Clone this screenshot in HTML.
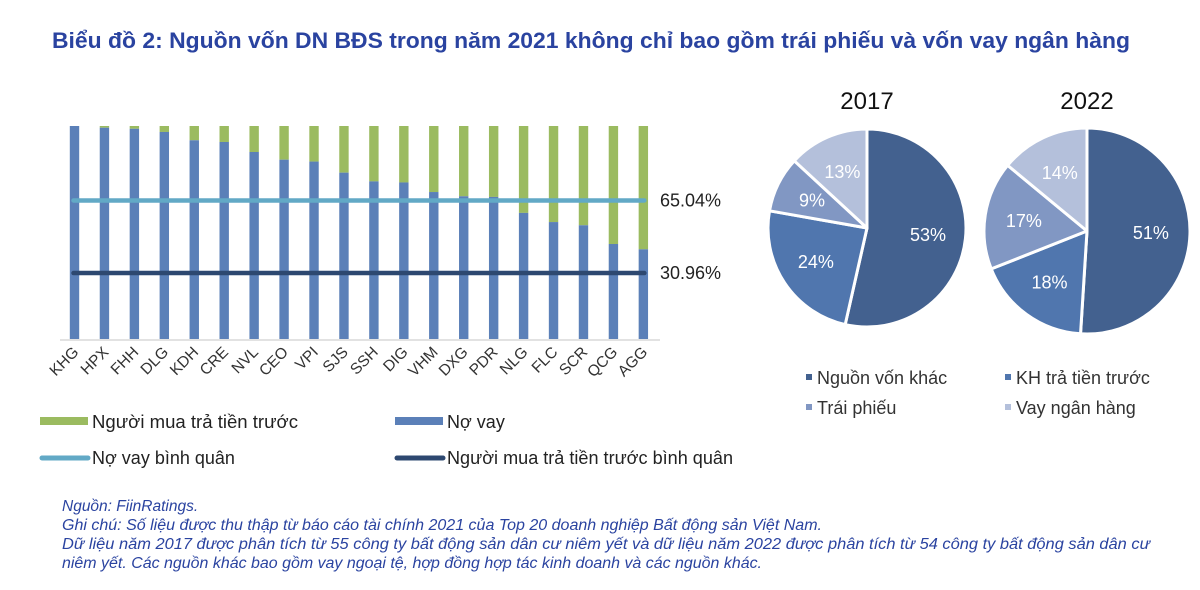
<!DOCTYPE html>
<html><head><meta charset="utf-8"><style>
body{margin:0;background:#fff;}
svg{display:block;font-family:"Liberation Sans",Arial,sans-serif;}
</style></head><body>
<svg id="c" width="1200" height="590" viewBox="0 0 1200 590" xmlns="http://www.w3.org/2000/svg">
<text x="52" y="48" font-size="22" font-weight="bold" fill="#2a43a0" textLength="1078" lengthAdjust="spacingAndGlyphs">Biểu đồ 2: Nguồn vốn DN BĐS trong năm 2021 không chỉ bao gồm trái phiếu và vốn vay ngân hàng</text>
<g id="bars"></g>
<g id="pies"></g>
<g font-size="18" fill="#222">
<rect x="40" y="417" width="48" height="8" fill="#9bbb60"/>
<text x="92" y="428" textLength="206" lengthAdjust="spacingAndGlyphs">Người mua trả tiền trước</text>
<rect x="395" y="417" width="48" height="8" fill="#5b80b8"/>
<text x="447" y="428">Nợ vay</text>
<line x1="42" y1="458" x2="88" y2="458" stroke="#62a9c6" stroke-width="5" stroke-linecap="round"/>
<text x="92" y="464">Nợ vay bình quân</text>
<line x1="397" y1="458" x2="443" y2="458" stroke="#2d4870" stroke-width="5" stroke-linecap="round"/>
<text x="447" y="464" textLength="286" lengthAdjust="spacingAndGlyphs">Người mua trả tiền trước bình quân</text>
</g>
<g font-size="18" fill="#333">
<rect x="806" y="374" width="6" height="6" fill="#43618f"/>
<text x="817" y="384">Nguồn vốn khác</text>
<rect x="1005" y="374" width="6" height="6" fill="#5076ae"/>
<text x="1016" y="384">KH trả tiền trước</text>
<rect x="806" y="404" width="6" height="6" fill="#8197c3"/>
<text x="817" y="414">Trái phiếu</text>
<rect x="1005" y="404" width="6" height="6" fill="#b4c0db"/>
<text x="1016" y="414">Vay ngân hàng</text>
</g>
<g font-size="15.5" font-style="italic" fill="#2a43a0">
<text x="62" y="511">Nguồn: FiinRatings.</text>
<text x="62" y="530" textLength="760" lengthAdjust="spacingAndGlyphs">Ghi chú: Số liệu được thu thập từ báo cáo tài chính 2021 của Top 20 doanh nghiệp Bất động sản Việt Nam.</text>
<text x="62" y="549" textLength="1088" lengthAdjust="spacingAndGlyphs">Dữ liệu năm 2017 được phân tích từ 55 công ty bất động sản dân cư niêm yết và dữ liệu năm 2022 được phân tích từ 54 công ty bất động sản dân cư</text>
<text x="62" y="568" textLength="700" lengthAdjust="spacingAndGlyphs">niêm yết. Các nguồn khác bao gồm vay ngoại tệ, hợp đồng hợp tác kinh doanh và các nguồn khác.</text>
</g>
</svg>
<script>
const companies=["KHG","HPX","FHH","DLG","KDH","CRE","NVL","CEO","VPI","SJS","SSH","DIG","VHM","DXG","PDR","NLG","FLC","SCR","QCG","AGG"];
const debtShare=[100,99.2,98.7,97.2,93.3,92.5,87.8,84.2,83.3,78.1,74.0,73.5,69.0,67.0,66.7,59.2,54.9,53.4,44.6,42.1];
const avgDebt=65.04;
const avgPrepaid=30.96;
const pieYears=["2017","2022"];
const pieLabels=["Nguồn vốn khác","KH trả tiền trước","Trái phiếu","Vay ngân hàng"];
const pie2017=[53,24,9,13];
const pie2022=[51,18,17,14];

const NS="http://www.w3.org/2000/svg";
function mk(t,a,p){const e=document.createElementNS(NS,t);for(const k in a)e.setAttribute(k,a[k]);p.appendChild(e);return e;}
const g=document.getElementById('bars');
const y0=339,y1=126;
const yS=v=>y0-(v/100)*(y0-y1);
const xS=i=>74.5+i*29.94;
const bw=9.4;
let ax=mk('line',{x1:60,y1:y0+1,x2:660,y2:y0+1,stroke:'#d9d9d9','stroke-width':1.5},g);


companies.forEach((c,i)=>{
  const x=xS(i)-bw/2;
  const gr=mk('rect',{x:x,y:y1,width:bw,height:yS(debtShare[i])-y1,fill:'#9bbb60'},g);
  
  
  const b=mk('rect',{x:x,y:yS(debtShare[i]),width:bw,height:y0-yS(debtShare[i]),fill:'#5b80b8'},g);
  
  
  const t=mk('text',{x:xS(i)+5,y:353,'font-size':15.5,fill:'#333','text-anchor':'end',transform:`rotate(-45 ${xS(i)+5} 353)`},g);
  t.textContent=c;
  
  
});
[[avgDebt,'#62a9c6','avg-debt-line'],[avgPrepaid,'#2d4870','avg-prepaid-line']].forEach(([v,col,n])=>{
  const l=mk('line',{x1:xS(0)-1,y1:yS(v),x2:xS(companies.length-1)+1,y2:yS(v),stroke:col,'stroke-width':4.5,'stroke-linecap':'round'},g);
  
  
  const t=mk('text',{x:660,y:yS(v)+6,'font-size':18,fill:'#222'},g);
  t.textContent=v.toFixed(2)+'%';
  
  
});
const pg=document.getElementById('pies');
const cols=['#43618f','#5076ae','#8197c3','#b4c0db'];
[[pie2017,867,228,99],[pie2022,1087,231,103]].forEach(([vals,cx,cy,r],pi)=>{
  const tt=mk('text',{x:cx,y:109,'font-size':24,'text-anchor':'middle',fill:'#111'},pg);
  tt.textContent=pieYears[pi];
  
  
  const tot=vals.reduce((a,b)=>a+b,0);
  let a=0;
  vals.forEach((v,i)=>{
    const a0=a/tot*2*Math.PI,a1=(a+v)/tot*2*Math.PI;a+=v;
    const p=(ang,rr)=>[cx+rr*Math.sin(ang),cy-rr*Math.cos(ang)];
    const [xa,ya]=p(a0,r),[xb,yb]=p(a1,r);
    const s=mk('path',{d:`M${cx},${cy}L${xa},${ya}A${r},${r} 0 ${a1-a0>Math.PI?1:0} 1 ${xb},${yb}Z`,fill:cols[i],stroke:'#fff','stroke-width':3,'stroke-linejoin':'round'},pg);
    
    
    const [lx,ly]=p((a0+a1)/2,r*0.62);
    const t=mk('text',{x:lx,y:ly+6,'font-size':18,'text-anchor':'middle',fill:'#fff'},pg);
    t.textContent=v+'%';
    
    
  });
});
</script>
</body></html>
